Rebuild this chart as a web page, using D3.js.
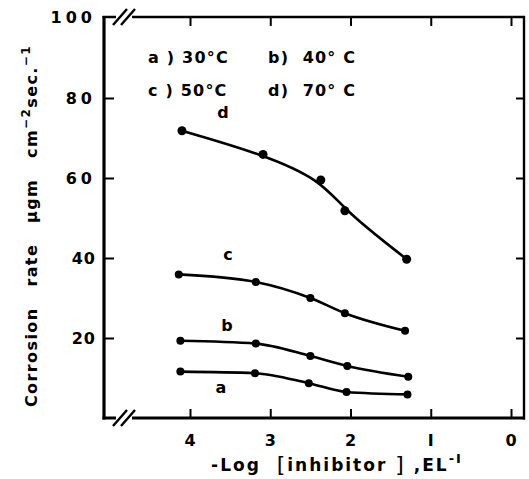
<!DOCTYPE html>
<html><head><meta charset="utf-8">
<script src="https://cdn.jsdelivr.net/npm/d3@7"></script>
<style>
body{margin:0;background:#fff;}
text{font-family:"DejaVu Sans",sans-serif;font-weight:bold;fill:#000;}
</style></head>
<body><svg id="c" width="529" height="479"></svg>
<script>
// Data
const xTicks = [4, 3, 2, 1, 0];
const xTickLabels = ["4", "3", "2", "I", "0"];
const yTicks = [20, 40, 60, 80, 100];
const yTickLabels = ["20", "40", "60", "80", "100"];
const seriesNames = ["a", "b", "c", "d"];
const legendLabels = ["a ) 30°C", "b)  40° C", "c ) 50°C", "d)  70° C"];
const xA = [4.12, 3.19, 2.52, 2.05, 1.29];
const valA = [11.6, 11.2, 8.7, 6.5, 5.9];
const xB = [4.12, 3.18, 2.50, 2.04, 1.28];
const valB = [19.3, 18.6, 15.5, 13.0, 10.3];
const xC = [4.14, 3.18, 2.50, 2.07, 1.32];
const valC = [35.9, 34.0, 30.0, 26.2, 21.8];
const xD = [4.10, 3.09, 2.37, 2.07, 1.30];
const valD = [71.8, 65.9, 59.5, 51.8, 39.7];

const svg = d3.select("#c");
const L = 104, R = 524, T = 17, B = 418;
const x = d3.scaleLinear().domain([4, 0]).range([190, 511]);
const y = d3.scaleLinear().domain([0, 100]).range([B, T + 1]);

// frame
svg.append("line").attr("x1", L).attr("x2", L).attr("y1", T - 1).attr("y2", B + 1.5).attr("stroke", "#000").attr("stroke-width", 3.2);
svg.append("line").attr("x1", L - 1.5).attr("x2", R + 1).attr("y1", B).attr("y2", B).attr("stroke", "#000").attr("stroke-width", 3.2);
svg.append("line").attr("x1", L - 1.5).attr("x2", R + 1).attr("y1", T).attr("y2", T).attr("stroke", "#000").attr("stroke-width", 2.6);
svg.append("line").attr("x1", R).attr("x2", R).attr("y1", T - 1).attr("y2", B + 1.5).attr("stroke", "#000").attr("stroke-width", 2.4);

// break marks
function brk(cx, cy) {
  svg.append("rect").attr("x", cx - 8).attr("y", cy - 3).attr("width", 16).attr("height", 6).attr("fill", "#fff");
  [-4, 4].forEach(o => {
    svg.append("line").attr("x1", cx + o - 7).attr("y1", cy + 8).attr("x2", cx + o + 7).attr("y2", cy - 8)
      .attr("stroke", "#000").attr("stroke-width", 2.4);
  });
}
brk(124, T);
brk(124, B);

// axes ticks (inside)
const gx = svg.append("g").attr("transform", `translate(0,${B})`)
  .call(d3.axisBottom(x).tickValues(xTicks).tickSize(-9).tickFormat(""));
const gxt = svg.append("g").attr("transform", `translate(0,${T})`)
  .call(d3.axisTop(x).tickValues(xTicks).tickSize(-9).tickFormat(""));
const gy = svg.append("g").attr("transform", `translate(${L},0)`)
  .call(d3.axisLeft(y).tickValues(yTicks.slice(0, 4)).tickSize(-10).tickFormat(""));
const gyr = svg.append("g").attr("transform", `translate(${R},0)`)
  .call(d3.axisRight(y).tickValues(yTicks.slice(0, 4)).tickSize(-8).tickFormat(""));
[gx, gxt, gy, gyr].forEach(g => {
  g.select(".domain").remove();
  g.selectAll(".tick line").attr("stroke", "#000").attr("stroke-width", 2);
});

// tick labels
svg.append("g").selectAll("text").data(xTicks).join("text")
  .attr("x", d => x(d)).attr("y", 446).attr("text-anchor", "middle")
  .attr("font-size", 16).text((d, i) => xTickLabels[i]);
svg.append("g").selectAll("text").data(yTicks).join("text")
  .attr("x", 96).attr("y", d => d === 100 ? T + 6 : y(d) + 6).attr("text-anchor", "end")
  .attr("font-size", 16).attr("letter-spacing", d => (d >= 60 ? 4 : 1))
  .text((d, i) => yTickLabels[i]);

// legend text
const legPos = [[148, 63], [268, 63], [148, 96], [268, 96]];
svg.append("g").selectAll("text").data(legendLabels).join("text")
  .attr("x", (d, i) => legPos[i][0]).attr("y", (d, i) => legPos[i][1])
  .attr("font-size", 16).attr("letter-spacing", 1.2).attr("xml:space", "preserve").text(d => d);

// series
const series = [
  { name: "a", xs: xA, vs: valA, lx: 221, ly: 393, curve: d3.curveMonotoneX },
  { name: "b", xs: xB, vs: valB, lx: 227, ly: 331, curve: d3.curveMonotoneX },
  { name: "c", xs: xC, vs: valC, lx: 228, ly: 260, curve: d3.curveMonotoneX },
  { name: "d", xs: xD, vs: valD, lx: 223, ly: 118, curve: d3.curveBasis }
];
series.forEach(s => {
  const line = d3.line().x(p => x(p[0])).y(p => y(p[1])).curve(s.curve);
  const pts = s.xs.map((v, i) => [v, s.vs[i]]);
  svg.append("path").attr("d", line(pts)).attr("fill", "none").attr("stroke", "#000").attr("stroke-width", 2.6);
  svg.append("g").selectAll("circle").data(pts).join("circle")
    .attr("cx", p => x(p[0])).attr("cy", p => y(p[1])).attr("r", s.name === "d" ? 4.5 : 4).attr("fill", "#000");
  svg.append("text").attr("x", s.lx).attr("y", s.ly).attr("text-anchor", "middle").attr("font-size", 16).text(s.name);
});

// y axis title
const yt = svg.append("text").attr("transform", "translate(37,226) rotate(-90)")
  .attr("text-anchor", "middle").attr("font-size", 16).attr("letter-spacing", 1.4).attr("xml:space", "preserve");
yt.append("tspan").text("Corrosion   rate   \u03bcgm   cm");
yt.append("tspan").attr("dy", -7).attr("font-size", 12).text("\u22122");
yt.append("tspan").attr("dy", 7).text("sec.");
yt.append("tspan").attr("dy", -7).attr("font-size", 12).text("\u22121");

// x axis title
const xt = svg.append("text").attr("x", 337).attr("y", 471).attr("text-anchor", "middle")
  .attr("font-size", 17).attr("letter-spacing", 2).attr("xml:space", "preserve");
xt.append("tspan").text("-Log  ");
xt.append("tspan").attr("font-size", 22).attr("font-weight", "normal").attr("dy", 1).text("[");
xt.append("tspan").attr("dy", -1).text("inhibitor ");
xt.append("tspan").attr("font-size", 22).attr("font-weight", "normal").attr("dy", 1).text("]");
xt.append("tspan").attr("dy", -1).text(" ,EL");
xt.append("tspan").attr("dy", -8).attr("font-size", 13).text("-I");
</script></body></html>
